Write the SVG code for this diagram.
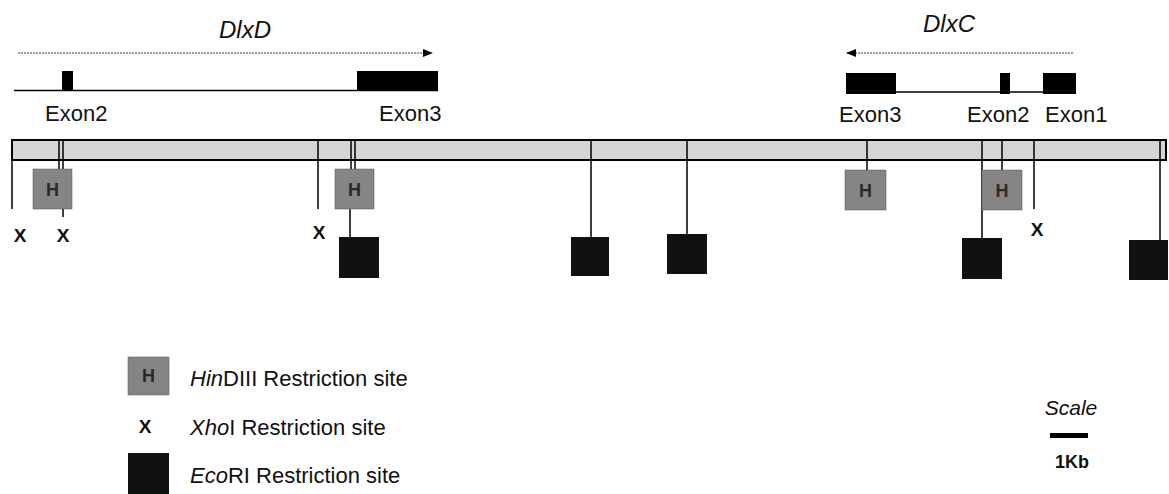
<svg xmlns="http://www.w3.org/2000/svg" width="1169" height="494" viewBox="0 0 1169 494">
<style>
text{font-family:"Liberation Sans",Arial,sans-serif;fill:#111}
.lbl{font-size:22px}
.gene{font-size:24px;font-style:italic}
.it{font-style:italic}
.hbox{fill:#858585;stroke:#555;stroke-width:0.5}
.htxt{font-size:18px;font-weight:bold;fill:#2a2a2a;text-anchor:middle}
.eco{fill:#111}
.exon{fill:#000}
.gl{stroke:#000;stroke-width:1.5;fill:none}
.site{stroke:#000;stroke-width:1.5;fill:none}
.x{font-size:19px;font-weight:bold;text-anchor:middle}
.dots{stroke:#9a9a9a;stroke-width:2;stroke-dasharray:2 1;fill:none}
</style>
<defs>
<marker id="ah" markerWidth="10" markerHeight="8" refX="9" refY="4" orient="auto" markerUnits="userSpaceOnUse">
<path d="M0,0 L10,4 L0,8 Z" fill="#000"/>
</marker>
</defs>
<rect width="1169" height="494" fill="#fff"/>

<g id="dlxD">
<text class="gene" x="245" y="38" text-anchor="middle">DlxD</text>
<line class="dots" x1="18" y1="53" x2="432" y2="53" marker-end="url(#ah)"/>
<line class="gl" x1="14" y1="90.5" x2="438" y2="90.5"/>
<rect class="exon" x="62" y="71" width="11" height="20"/>
<rect class="exon" x="357" y="71" width="81" height="20"/>
<text class="lbl" x="45" y="121">Exon2</text>
<text class="lbl" x="379" y="121">Exon3</text>
</g>

<g id="dlxC">
<text class="gene" x="949" y="32" text-anchor="middle">DlxC</text>
<line class="dots" x1="1073" y1="53" x2="847" y2="53" marker-end="url(#ah)"/>
<line class="gl" x1="896" y1="92" x2="1043" y2="92"/>
<rect class="exon" x="846" y="73" width="50" height="21"/>
<rect class="exon" x="1000" y="73" width="10" height="21"/>
<rect class="exon" x="1043" y="73" width="33" height="21"/>
<text class="lbl" x="839" y="122">Exon3</text>
<text class="lbl" x="967" y="122">Exon2</text>
<text class="lbl" x="1045" y="122">Exon1</text>
</g>

<g id="chromosome">
<rect x="12" y="140" width="1154" height="20" fill="#d6d6d6" stroke="#000" stroke-width="2"/>
</g>

<g id="connectors">
<line class="site" x1="12" y1="140" x2="12" y2="209"/>
<line class="site" x1="59" y1="140" x2="59" y2="170"/>
<line class="site" x1="63" y1="140" x2="63" y2="170"/>
<line class="site" x1="63" y1="209" x2="63" y2="217"/>
<line class="site" x1="318" y1="140" x2="318" y2="209"/>
<line class="site" x1="351" y1="140" x2="351" y2="170"/>
<line class="site" x1="355" y1="140" x2="355" y2="170"/>
<line class="site" x1="350" y1="209" x2="350" y2="237"/>
<line class="site" x1="591" y1="140" x2="591" y2="237"/>
<line class="site" x1="687" y1="140" x2="687" y2="234"/>
<line class="site" x1="867" y1="140" x2="867" y2="170"/>
<line class="site" x1="982" y1="140" x2="982" y2="238"/>
<line class="site" x1="1002" y1="140" x2="1002" y2="170"/>
<line class="site" x1="1034" y1="140" x2="1034" y2="209"/>
<line class="site" x1="1160" y1="140" x2="1160" y2="240"/>
</g>

<g id="h1"><rect class="hbox" x="33" y="169" width="39" height="40"/><text class="htxt" x="52.5" y="196">H</text></g>
<g id="h2"><rect class="hbox" x="335" y="169" width="39" height="40"/><text class="htxt" x="354.5" y="196">H</text></g>
<g id="h3"><rect class="hbox" x="845" y="170" width="41" height="40"/><text class="htxt" x="865.5" y="197">H</text></g>
<g id="h4"><rect class="hbox" x="982" y="170" width="40" height="40"/><text class="htxt" x="1002" y="197">H</text></g>

<g id="x1"><text class="x" x="20" y="242">X</text></g>
<g id="x2"><text class="x" x="63" y="242">X</text></g>
<g id="x3"><text class="x" x="319" y="239">X</text></g>
<g id="x4"><text class="x" x="1037" y="236">X</text></g>

<g id="e1"><rect class="eco" x="339" y="237" width="40" height="41"/></g>
<g id="e2"><rect class="eco" x="571" y="237" width="38" height="39"/></g>
<g id="e3"><rect class="eco" x="667" y="234" width="40" height="40"/></g>
<g id="e4"><rect class="eco" x="962" y="238" width="40" height="41"/></g>
<g id="e5"><rect class="eco" x="1129" y="240" width="39" height="40"/></g>

<g id="legend">
<rect class="hbox" x="128" y="357" width="41" height="38"/><text class="htxt" x="148.5" y="382">H</text>
<text class="lbl" x="190" y="386"><tspan class="it">Hin</tspan>DIII Restriction site</text>
<text class="x" x="145" y="433">X</text>
<text class="lbl" x="190" y="435"><tspan class="it">Xho</tspan>I Restriction site</text>
<rect class="eco" x="128" y="453" width="41" height="41"/>
<text class="lbl" x="190" y="483"><tspan class="it">Eco</tspan>RI Restriction site</text>
</g>

<g id="scale">
<text x="1071" y="415" font-size="21" font-style="italic" text-anchor="middle">Scale</text>
<rect x="1050" y="433" width="38" height="5" fill="#000"/>
<text x="1072" y="468" font-size="18" font-weight="bold" text-anchor="middle">1Kb</text>
</g>
</svg>
